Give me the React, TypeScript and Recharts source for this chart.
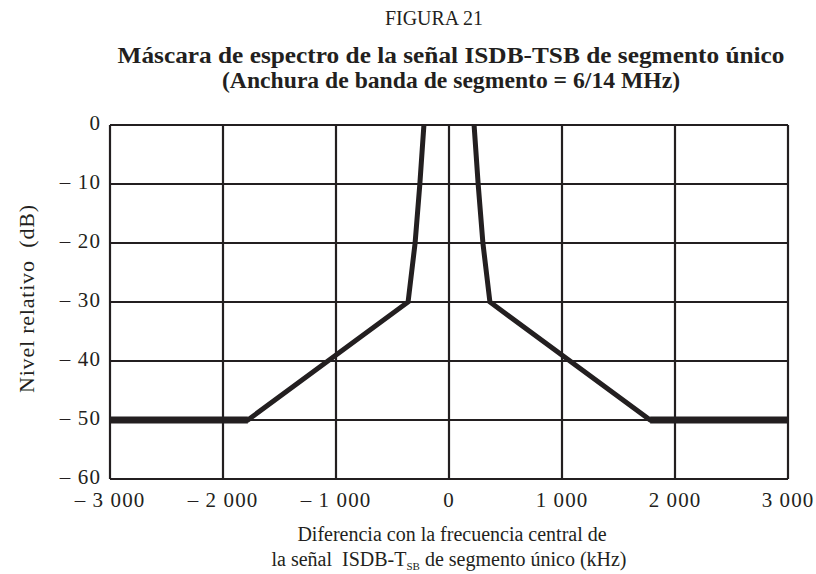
import { LineChart, Line, XAxis, YAxis, CartesianGrid } from 'recharts';

// Spectrum mask points (kHz, dB)
const FREQ = [-3000, -1780, -362, -300, -258, -222, 0, 222, 258, 300, 362, 1780, 3000];
const MASK = [-50, -50, -30, -20, -10, 0, null, 0, -10, -20, -30, -50, -50];
// flat -50 dB floors are drawn a bit heavier in the original
const FLOOR = [-50, -50, null, null, null, null, null, null, null, null, null, -50, -50];

const X_TICKS = [-3000, -2000, -1000, 0, 1000, 2000, 3000];
const Y_TICKS = [-60, -50, -40, -30, -20, -10, 0];

const data = FREQ.map((f, i) => ({ f, mask: MASK[i], floor: FLOOR[i] }));

const W = 816;
const H = 574;
const PLOT_LEFT = 110;
const PLOT_TOP = 125;
const PLOT_RIGHT = 788;
const PLOT_BOTTOM = 479;
const INK = '#231f20';
const SERIF = '"Liberation Serif", "Times New Roman", serif';

function fmt(v: number): string {
  if (v === 0) return '0';
  const abs = Math.abs(v);
  const s = abs >= 1000 ? `${Math.floor(abs / 1000)} ${String(abs % 1000).padStart(3, '0')}` : String(abs);
  return v < 0 ? `– ${s}` : s;
}

function XTick({ x, payload }: any) {
  return (
    <text x={x} y={PLOT_BOTTOM + 28} textAnchor="middle" fontFamily={SERIF} fontSize={21} fill={INK} letterSpacing={1.1}>
      {fmt(payload.value)}
    </text>
  );
}

function YTick({ y, payload }: any) {
  return (
    <text x={PLOT_LEFT - 9} y={y + 5} textAnchor="end" fontFamily={SERIF} fontSize={21} fill={INK} letterSpacing={1.1}>
      {fmt(payload.value)}
    </text>
  );
}

export default function App() {
  return (
    <div style={{ position: 'absolute', left: 0, top: 0, width: W, height: H, background: '#fff' }}>
      <LineChart
        width={W}
        height={H}
        data={data}
        margin={{ top: PLOT_TOP, right: W - PLOT_RIGHT, bottom: H - PLOT_BOTTOM - 30, left: PLOT_LEFT - 60 }}
      >
        <CartesianGrid stroke={INK} strokeWidth={2.2} horizontalValues={Y_TICKS} verticalValues={X_TICKS} />
        <XAxis
          dataKey="f"
          type="number"
          domain={[-3000, 3000]}
          ticks={X_TICKS}
          axisLine={false}
          tickLine={false}
          height={30}
          tick={<XTick />}
        />
        <YAxis
          type="number"
          domain={[-60, 0]}
          ticks={Y_TICKS}
          axisLine={false}
          tickLine={false}
          width={60}
          tick={<YTick />}
        />
        <Line dataKey="mask" type="linear" stroke={INK} strokeWidth={5} dot={false} activeDot={false} isAnimationActive={false} connectNulls={false} />
        <Line dataKey="floor" type="linear" stroke={INK} strokeWidth={7} dot={false} activeDot={false} isAnimationActive={false} connectNulls={false} />
      </LineChart>
      <svg width={W} height={H} style={{ position: 'absolute', left: 0, top: 0, pointerEvents: 'none' }}>
        <text x={434} y={25} textAnchor="middle" fontFamily={SERIF} fontSize={20} fill={INK} textLength={98} lengthAdjust="spacingAndGlyphs">
          FIGURA 21
        </text>
        <text x={451} y={63} textAnchor="middle" fontFamily={SERIF} fontSize={23} fontWeight="bold" fill={INK} textLength={667} lengthAdjust="spacingAndGlyphs">
          Máscara de espectro de la señal ISDB-TSB de segmento único
        </text>
        <text x={451} y={88} textAnchor="middle" fontFamily={SERIF} fontSize={23} fontWeight="bold" fill={INK} textLength={458} lengthAdjust="spacingAndGlyphs">
          (Anchura de banda de segmento = 6/14 MHz)
        </text>
        <text
          transform="translate(34, 299) rotate(-90)"
          textAnchor="middle"
          fontFamily={SERIF}
          fontSize={22}
          fill={INK}
          textLength={188}
          lengthAdjust="spacing"
        >
          {'Nivel relativo\u00a0\u00a0(dB)'}
        </text>
        <text x={452} y={541} textAnchor="middle" fontFamily={SERIF} fontSize={20} fill={INK}>
          Diferencia con la frecuencia central de
        </text>
        <text x={449} y={566} textAnchor="middle" fontFamily={SERIF} fontSize={20} fill={INK}>
          {'la señal\u00a0\u00a0ISDB-T'}
          <tspan fontSize={11} dy={4}>SB</tspan>
          <tspan dy={-4}> de segmento único (kHz)</tspan>
        </text>
      </svg>
    </div>
  );
}
